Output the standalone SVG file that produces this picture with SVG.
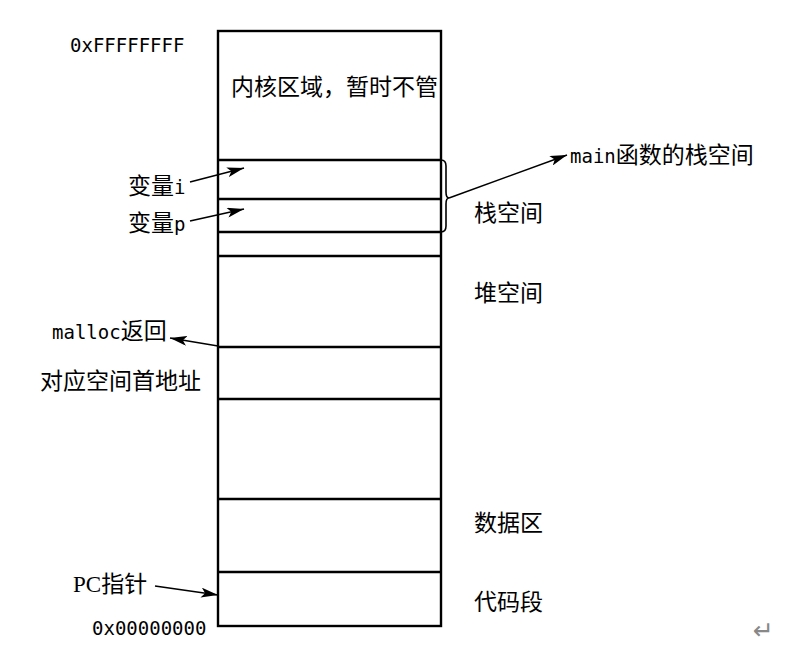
<svg xmlns="http://www.w3.org/2000/svg" width="793" height="664" viewBox="0 0 793 664">
<style>
.box{fill:none;stroke:#000;stroke-width:2.4}
.ln{stroke:#000;stroke-width:2.4}
.cn{fill:none;stroke:#000;stroke-width:1.6}
.cjk{font-family:"Noto Sans CJK SC",sans-serif;font-size:23px;fill:#000}
.mono{font-family:"DejaVu Sans Mono",monospace;font-size:19px;fill:#000}
.ser{font-family:"Liberation Serif","Noto Sans CJK SC",serif;font-size:23px;fill:#000}
</style>
<defs>
<marker id="ah" markerUnits="userSpaceOnUse" markerWidth="18" markerHeight="10" refX="17" refY="5" orient="auto">
<path d="M0,0 L17,5 L0,10 L4,5 z" fill="#000"/>
</marker>
</defs>
<rect width="793" height="664" fill="#fff"/>
<g id="memory">
<rect class="box" x="218" y="31" width="223" height="595"/>
<line class="ln" x1="218" y1="160" x2="441" y2="160"/>
<line class="ln" x1="218" y1="199" x2="441" y2="199"/>
<line class="ln" x1="218" y1="232" x2="441" y2="232"/>
<line class="ln" x1="218" y1="256" x2="441" y2="256"/>
<line class="ln" x1="218" y1="347" x2="441" y2="347"/>
<line class="ln" x1="218" y1="399" x2="441" y2="399"/>
<line class="ln" x1="218" y1="499" x2="441" y2="499"/>
<line class="ln" x1="218" y1="572" x2="441" y2="572"/>
<text class="ser" x="231" y="95">内核区域，暂时不管</text>
</g>
<g id="labels">
<text class="mono" x="70" y="52">0xFFFFFFFF</text>
<text class="mono" x="92" y="635">0x00000000</text>
<text class="cjk" x="474" y="221">栈空间</text>
<text class="cjk" x="474" y="301">堆空间</text>
<text class="cjk" x="474" y="531">数据区</text>
<text class="cjk" x="474" y="610">代码段</text>
<text x="128" y="194"><tspan class="cjk">变量</tspan><tspan class="mono">i</tspan></text>
<text x="128" y="231"><tspan class="cjk">变量</tspan><tspan class="mono">p</tspan></text>
<text x="570" y="163"><tspan class="mono">main</tspan><tspan class="cjk">函数的栈空间</tspan></text>
<text x="52" y="339"><tspan class="mono">malloc</tspan><tspan class="cjk">返回</tspan></text>
<text class="cjk" x="40" y="389">对应空间首地址</text>
<text class="ser" x="73" y="592">PC指针</text>
<text x="753" y="639" font-family="DejaVu Sans,sans-serif" font-size="25" fill="#888">↵</text>
</g>
<g id="connectors">
<path class="cn" d="M441,160 Q446,160 446,166 L446,192 Q446,198 449,198 Q446,198 446,204 L446,226 Q446,232 441,232"/>
<line class="cn" x1="449" y1="198" x2="567" y2="155" marker-end="url(#ah)"/>
<line class="cn" x1="190" y1="182" x2="244" y2="168" marker-end="url(#ah)"/>
<line class="cn" x1="190" y1="221" x2="244" y2="209" marker-end="url(#ah)"/>
<line class="cn" x1="218" y1="346" x2="170" y2="338" marker-end="url(#ah)"/>
<line class="cn" x1="155" y1="586" x2="218" y2="595" marker-end="url(#ah)"/>
</g>
</svg>
